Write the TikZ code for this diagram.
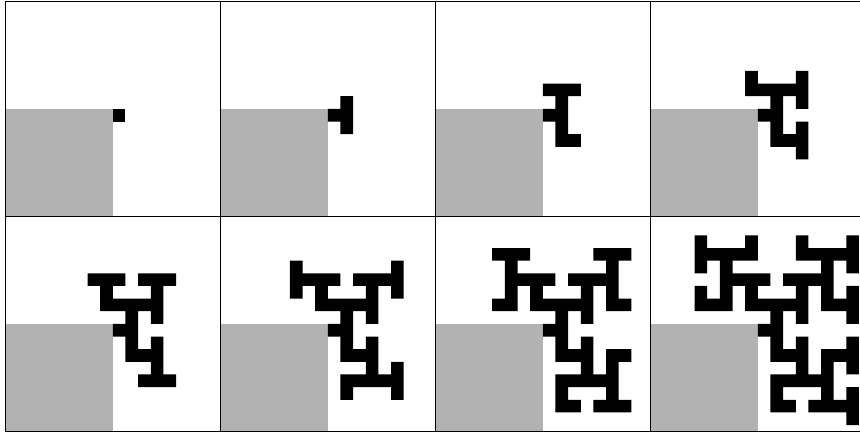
\documentclass[tikz,border=0pt]{standalone}
\begin{document}
\begin{tikzpicture}[x=0.35cm, y=0.35cm,
  quad/.style={fill=gray!60},
  cell/.style={fill=black}]
  \useasboundingbox (-0.42,-0.2) rectangle (67.58,34.11);
  % every panel is 17 x 17 cells, origin at the panel centre
  % stage 1
  \begin{scope}[shift={(8.5,25.5)}]
    \fill[quad] (-8.5,-8.5) rectangle (0,0);
    \fill[cell] (0,-1) rectangle (1,0);
  \end{scope}
  % stage 2
  \begin{scope}[shift={(25.5,25.5)}]
    \fill[quad] (-8.5,-8.5) rectangle (0,0);
    \fill[cell] (0,-1) rectangle (1,0) (1,-2) rectangle (2,1);
  \end{scope}
  % stage 3
  \begin{scope}[shift={(42.5,25.5)}]
    \fill[quad] (-8.5,-8.5) rectangle (0,0);
    \fill[cell] (0,-1) rectangle (1,0) (1,-3) rectangle (2,2)
      (0,1) rectangle (3,2) (1,-3) rectangle (3,-2);
  \end{scope}
  % stage 4
  \begin{scope}[shift={(59.5,25.5)}]
    \fill[quad] (-8.5,-8.5) rectangle (0,0);
    \fill[cell] (0,-1) rectangle (1,0) (1,-3) rectangle (2,2)
      (-1,1) rectangle (0,3) (-1,1) rectangle (4,2) (3,0) rectangle (4,3)
      (1,-3) rectangle (4,-2) (3,-4) rectangle (4,-1);
  \end{scope}
  % stage 5
  \begin{scope}[shift={(8.5,8.5)}]
    \fill[quad] (-8.5,-8.5) rectangle (0,0);
    \fill[cell] (0,-1) rectangle (1,0) (1,-3) rectangle (2,2)
      (-1,1) rectangle (4,2) (-1,1) rectangle (0,4) (-2,3) rectangle (1,4)
      (3,0) rectangle (4,4) (2,3) rectangle (5,4)
      (1,-3) rectangle (4,-2) (3,-5) rectangle (4,-1) (2,-5) rectangle (5,-4);
  \end{scope}
  % stage 6
  \begin{scope}[shift={(25.5,8.5)}]
    \fill[quad] (-8.5,-8.5) rectangle (0,0);
    \fill[cell] (0,-1) rectangle (1,0) (1,-3) rectangle (2,2)
      (-1,1) rectangle (4,2) (-1,1) rectangle (0,4)
      (-3,3) rectangle (1,4) (-3,2) rectangle (-2,5)
      (3,0) rectangle (4,4) (2,3) rectangle (6,4) (5,2) rectangle (6,5)
      (1,-3) rectangle (4,-2) (3,-5) rectangle (4,-1) (1,-5) rectangle (6,-4)
      (1,-6) rectangle (2,-4) (5,-6) rectangle (6,-3);
  \end{scope}
  % stage 7
  \begin{scope}[shift={(42.5,8.5)}]
    \fill[quad] (-8.5,-8.5) rectangle (0,0);
    \fill[cell] (0,-1) rectangle (1,0) (1,-3) rectangle (2,2)
      (-1,1) rectangle (4,2) (-1,1) rectangle (0,4) (-3,3) rectangle (1,4)
      (-3,1) rectangle (-2,6) (-4,5) rectangle (-1,6) (-4,1) rectangle (-2,2)
      (3,0) rectangle (4,4) (2,3) rectangle (6,4)
      (5,1) rectangle (6,6) (4,5) rectangle (7,6) (5,1) rectangle (7,2)
      (1,-3) rectangle (4,-2) (3,-5) rectangle (4,-1) (1,-5) rectangle (6,-4)
      (1,-7) rectangle (2,-4) (1,-7) rectangle (3,-6)
      (5,-7) rectangle (6,-2) (5,-3) rectangle (7,-2) (4,-7) rectangle (7,-6);
  \end{scope}
  % stage 8
  \begin{scope}[shift={(59.5,8.5)}]
    \fill[quad] (-8.5,-8.5) rectangle (0,0);
    \fill[cell] (0,-1) rectangle (1,0) (1,-3) rectangle (2,2)
      (-1,1) rectangle (4,2) (-1,1) rectangle (0,4) (-3,3) rectangle (1,4)
      (-3,1) rectangle (-2,6) (-5,5) rectangle (0,6)
      (-5,4) rectangle (-4,7) (-1,5) rectangle (0,7)
      (-5,1) rectangle (-2,2) (-5,1) rectangle (-4,3)
      (3,0) rectangle (4,4) (2,3) rectangle (6,4) (5,1) rectangle (6,6)
      (3,5) rectangle (8,6) (3,5) rectangle (4,7) (7,4) rectangle (8,7)
      (5,1) rectangle (8,2) (7,0) rectangle (8,3)
      (1,-3) rectangle (4,-2) (3,-5) rectangle (4,-1) (1,-5) rectangle (6,-4)
      (1,-7) rectangle (2,-4) (1,-7) rectangle (3,-6)
      (5,-7) rectangle (6,-2) (5,-3) rectangle (8,-2) (7,-4) rectangle (8,-1)
      (4,-7) rectangle (8,-6) (7,-8) rectangle (8,-5);
  \end{scope}
  % frame
  \draw[line width=1pt, step=17] (0,0) grid (68,34);
\end{tikzpicture}
\end{document}
